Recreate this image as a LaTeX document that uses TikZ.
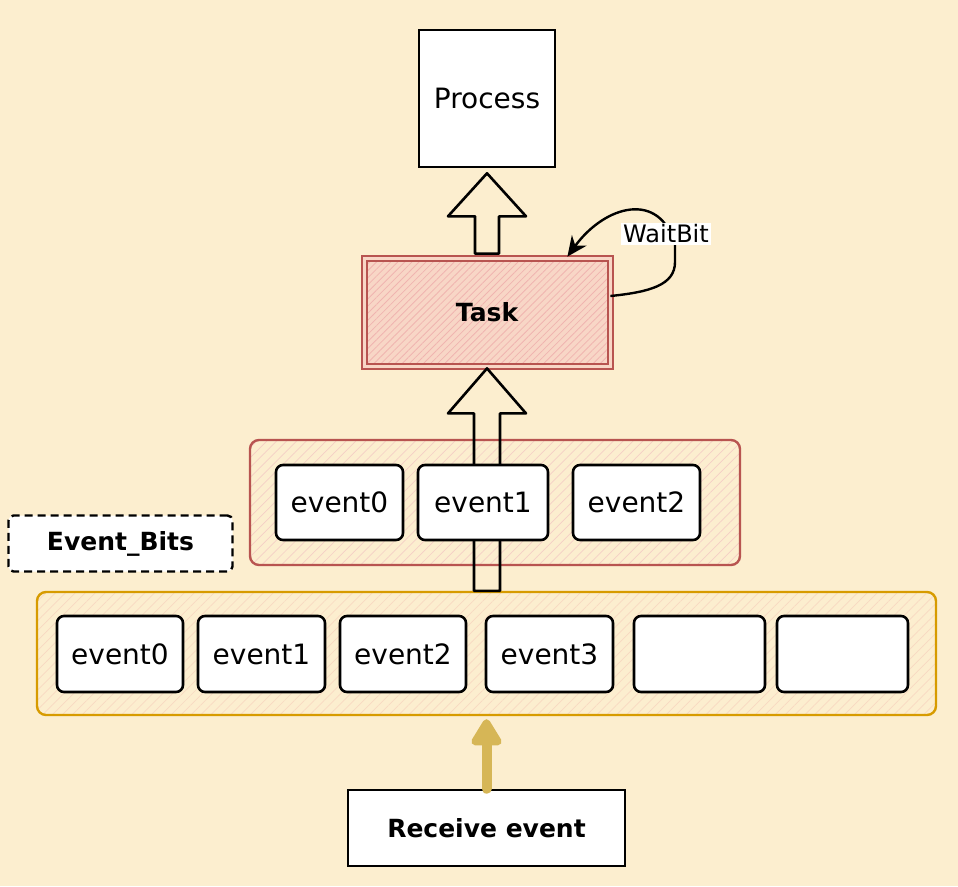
\documentclass[tikz,border=0pt]{standalone}
\usepackage{fontspec}
\setmainfont{DejaVu Sans}
\usetikzlibrary{patterns.meta,calc,arrows.meta}
\definecolor{bg}{HTML}{FCEECF}
\definecolor{redline}{HTML}{B85450}
\definecolor{taskfill}{HTML}{F8D6C6}
\definecolor{redhatch}{HTML}{F0B4B0}
\definecolor{redlight}{HTML}{F5CFC6}
\definecolor{yelline}{HTML}{D79B00}
\definecolor{yelhatch}{HTML}{F8D9C2}
\definecolor{gold}{HTML}{D6B656}
\begin{document}
\begin{tikzpicture}[x=1pt,y=-1pt,
  txt/.style={font=\fontsize{28pt}{32pt}\selectfont},
  btxt/.style={font=\fontsize{25pt}{30pt}\selectfont\bfseries},
  whitebox/.style={txt, draw=black, line width=2.6pt, fill=white, inner sep=0pt},
  evbox/.style={whitebox, rounded corners=7pt, minimum height=76pt},
  container/.style={line width=2.4pt, rounded corners=9pt, inner sep=0pt},
  hollow/.style={draw=black, line width=2.6pt, line join=round},
  waitarrow/.style={draw=black, line width=2.4pt, -{Stealth[length=20pt,width=18pt]}}
]
\fill[bg] (0,0) rectangle (958,886);
\useasboundingbox (0,0) rectangle (958,886);

% containers
\node[container, draw=redline, preaction={fill=bg},
  pattern={Lines[angle=45,distance=7pt,line width=0.7pt]}, pattern color=redlight,
  minimum width=490pt, minimum height=125pt] (rc) at (495,502.5) {};
\node[container, draw=yelline, preaction={fill=bg},
  pattern={Lines[angle=45,distance=7pt,line width=0.7pt]}, pattern color=yelhatch,
  minimum width=899pt, minimum height=123pt] (yc) at (486.5,653.5) {};

% Task
\node[btxt, draw=redline, line width=2pt, double=taskfill, double distance=3pt,
  preaction={fill=taskfill},
  pattern={Lines[angle=45,distance=5pt,line width=0.8pt]}, pattern color=redhatch,
  minimum width=246pt, minimum height=108pt, inner sep=0pt] (task) at (487,312) {};
\node[btxt] (tasklbl) at (task.center) {Task};

% Process
\node[whitebox, minimum width=136pt, minimum height=137pt] (proc) at (487,98.5) {Process};

% hollow arrow Task -> Process
\coordinate (t1) at ($(proc.south)+(0,5)$);
\draw[hollow, fill=bg] (t1) -- ++(39,43) -- ++(-27,0) -- ($(task.north)+(12,-4)$)
  -- ($(task.north)+(-12,-4)$) -- ($(t1)+(-12,43)$) -- ++(-27,0) -- cycle;

% hollow arrow event bits -> Task
\coordinate (t2) at ($(task.south)+(0,2)$);
\coordinate (b2) at (task.south |- yc.north);
\draw[hollow] (t2) -- ++(39,45) -- ++(-26,0) -- ($(b2)+(13,0)$)
  -- ($(b2)+(-13,0)$) -- ($(t2)+(-13,45)$) -- ++(-26,0) -- cycle;

% upper event row
\node[evbox, minimum width=127pt, minimum height=75pt] (r0) at (339.5,502.5) {event0};
\node[evbox, minimum width=130pt, minimum height=75pt] (r1) at (483,502.5) {event1};
\node[evbox, minimum width=127pt, minimum height=75pt] (r2) at (636.5,502.5) {event2};

% lower event row
\node[evbox, minimum width=126pt] (y0) at (120,654) {event0};
\node[evbox, minimum width=127pt] (y1) at (261.5,654) {event1};
\node[evbox, minimum width=126pt] (y2) at (403,654) {event2};
\node[evbox, minimum width=127pt] (y3) at (549.5,654) {event3};
\node[evbox, minimum width=131pt] (y4) at (699.5,654) {};
\node[evbox, minimum width=131pt] (y5) at (842.5,654) {};

% WaitBit loop
\draw[waitarrow] ($(task.east)+(0,-16)$) .. controls (650,292) and (675,285) .. (675,262)
  -- (675,245) .. controls (660,190) and (605,205) .. ($(task.north east)+(-43,-1)$);
\node[font=\fontsize{24pt}{28pt}\selectfont, fill=white, inner sep=2pt] (wb) at (666,234) {WaitBit};

% Event_Bits label
\node[btxt, draw=black, dash pattern=on 8pt off 5pt, line width=2.4pt, fill=white, rounded corners=5pt,
  minimum width=224pt, minimum height=56pt, inner sep=0pt] (eb) at (120.5,543.5) {Event\_Bits};

% Receive event
\node[whitebox, font=\fontsize{25pt}{30pt}\selectfont\bfseries,
  minimum width=277pt, minimum height=76pt] (recv) at (486.5,828) {Receive event};
\draw[gold, line width=10pt, line cap=round,
  -{Triangle[length=30pt,width=34pt,round]}] (recv.north) -- ($(yc.south)+(0,3)$);
\end{tikzpicture}
\end{document}
